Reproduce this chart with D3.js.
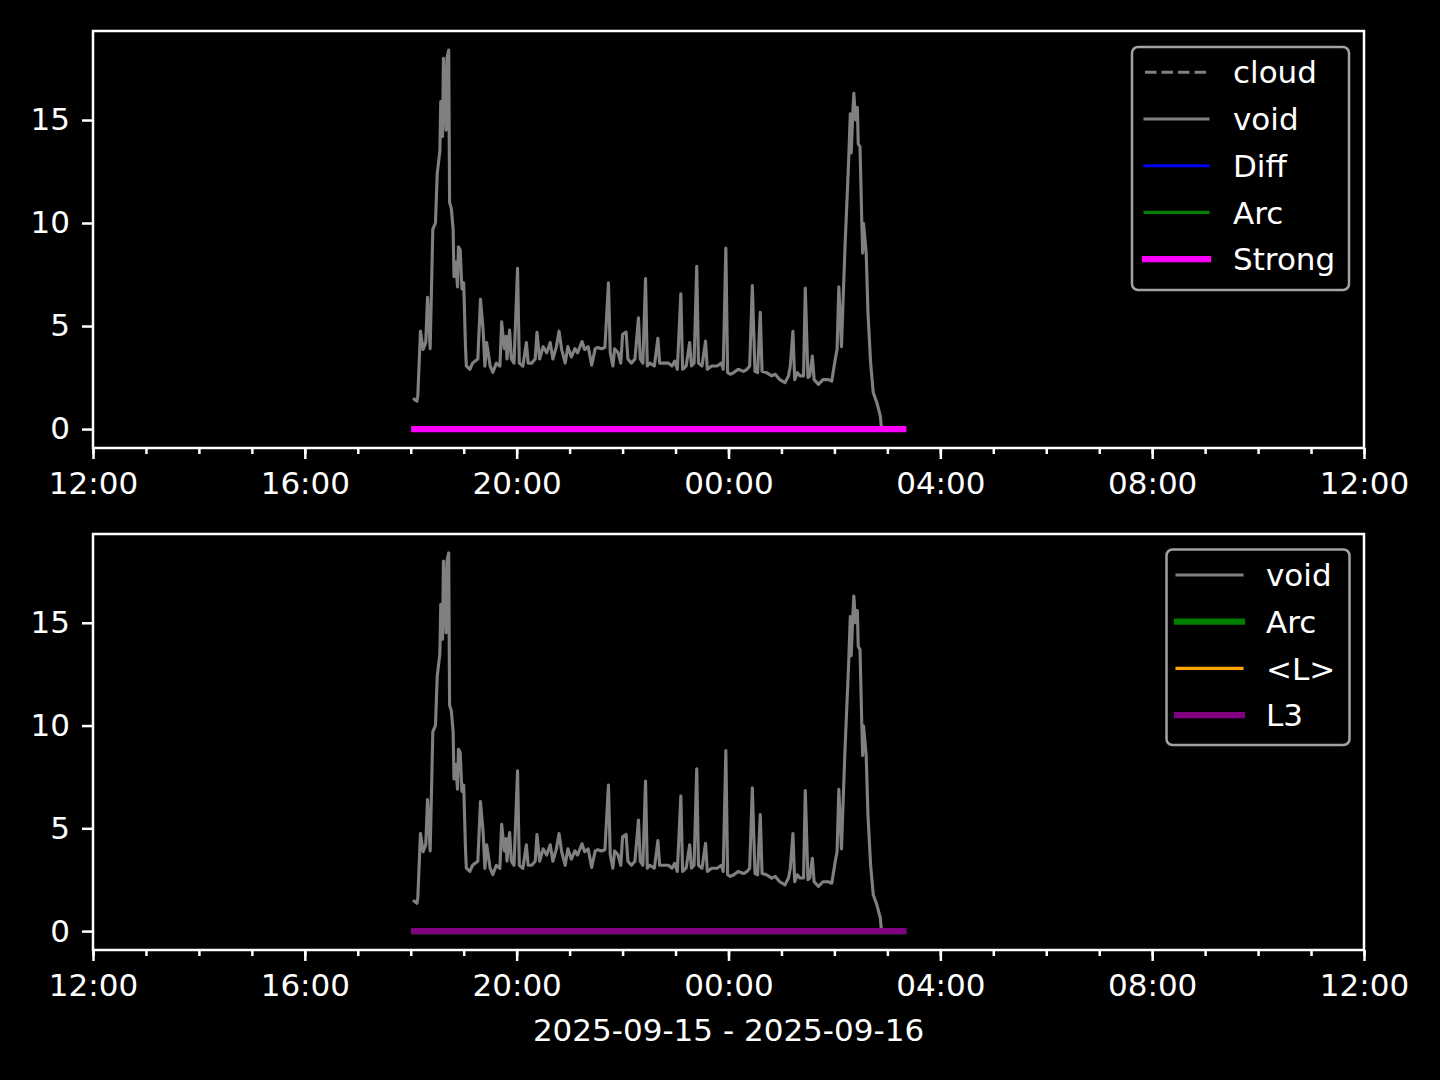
<!DOCTYPE html>
<html>
<head>
<meta charset="utf-8">
<script src="https://cdn.jsdelivr.net/npm/d3@7"></script>
<style>
  html, body { margin: 0; padding: 0; background: #000; }
  svg text { font-family: "DejaVu Sans", sans-serif; fill: #fff; }
</style>
</head>
<body>
<svg id="chart" width="1440" height="1080"></svg>
<script>
// void series (times are 2025-09-15 18:00 .. 2025-09-16 03:00)
const voidTimes = [
  "18:04","18:07","18:08","18:11","18:14","18:17","18:19","18:22","18:25","18:28",
  "18:30","18:33","18:34","18:36","18:37","18:40","18:41","18:43","18:44","18:46",
  "18:48","18:49","18:51","18:53","18:54","18:56","18:58","19:00","19:02","19:03",
  "19:07","19:10","19:16","19:19","19:22","19:24","19:26","19:30","19:33","19:37",
  "19:41","19:43","19:46","19:48","19:49","19:52","19:54","19:57","20:01","20:03",
  "20:07","20:11","20:13","20:17","20:21","20:23","20:26","20:30","20:34","20:38",
  "20:41","20:45","20:48","20:51","20:55","20:58","21:02","21:06","21:09","21:14",
  "21:17","21:21","21:25","21:29","21:32","21:36","21:40","21:44","21:46","21:49",
  "21:51","21:55","21:58","22:00","22:04","22:06","22:10","22:14","22:18","22:20",
  "22:23","22:26","22:28","22:31","22:36","22:40","22:42","22:46","22:52","22:56",
  "22:59","23:02","23:06","23:08","23:12","23:16","23:18","23:21","23:24","23:26",
  "23:30","23:34","23:36","23:41","23:47","23:52","23:54","23:57","23:59","00:02",
  "00:06","00:11","00:17","00:21","00:24","00:27","00:30","00:33","00:36","00:38",
  "00:43","00:49","00:53","00:58","01:04","01:08","01:10","01:13","01:15","01:18",
  "01:21","01:25","01:27","01:30","01:32","01:35","01:37","01:42","01:47","01:53",
  "01:57","02:01","02:03","02:05","02:08","02:12","02:16","02:18","02:19","02:21",
  "02:22","02:24","02:26","02:27","02:29","02:31","02:32","02:33","02:36","02:38",
  "02:41","02:44","02:48","02:52","02:53"
];
const voidValues = [
  1.45, 1.35, 1.6, 4.75, 3.86, 4.2, 6.4, 3.9, 9.7, 10.0,
  12.4, 13.5, 15.9, 14.2, 18.0, 14.5, 18.0, 18.4, 11.0, 10.7,
  9.7, 7.4, 8.1, 6.9, 8.85, 8.7, 6.8, 7.1, 4.0, 3.06,
  2.9, 3.2, 3.4, 6.3, 4.8, 3.05, 4.2, 3.05, 2.75, 3.2,
  3.05, 5.2, 3.9, 4.5, 3.4, 4.8, 3.4, 3.2, 7.8, 3.2,
  3.05, 4.2, 3.2, 3.2, 3.4, 4.7, 3.4, 4.0, 3.7, 4.2,
  3.4, 4.0, 4.75, 3.86, 3.2, 4.0, 3.5, 3.9, 3.7, 4.25,
  3.86, 4.0, 3.1, 3.9, 3.96, 3.9, 3.96, 7.1, 3.7, 3.06,
  3.9, 3.7, 3.2, 4.6, 4.7, 3.4, 3.2, 3.4, 5.4, 3.4,
  3.2, 7.3, 3.06, 3.2, 3.06, 4.4, 3.2, 3.2, 3.2, 3.06,
  3.3, 2.9, 6.57, 2.9, 3.06, 4.2, 3.06, 3.2, 7.9, 3.2,
  3.06, 4.27, 2.9, 3.06, 3.06, 3.2, 2.9, 8.78, 2.74, 2.66,
  2.74, 2.9, 2.8, 2.9, 3.06, 6.97, 2.8, 2.74, 5.67, 2.8,
  2.74, 2.58, 2.66, 2.4, 2.25, 2.58, 3.06, 4.75, 2.4, 2.74,
  2.58, 2.58, 6.84, 2.5, 2.58, 3.54, 2.4, 2.17, 2.4, 2.4,
  2.33, 3.4, 3.86, 6.9, 4.0, 8.85, 12.9, 15.3, 13.4, 15.46,
  16.3, 15.0, 15.6, 13.85, 13.7, 10.1, 8.55, 9.98, 8.55, 5.64,
  3.22, 1.77, 1.29, 0.64, 0.16
];
// flat series at zero over the whole run
const flatTimes = ["18:04", "03:18"];
const flatValues = [0, 0];

const xDomain = ["12:00", "12:00+"];
const dateLabel = "2025-09-15 - 2025-09-16";

const topLegend = ["cloud", "void", "Diff", "Arc", "Strong"];
const bottomLegend = ["void", "Arc", "<L>", "L3"];

const styles = {
  cloud:  {color: "#808080", width: 3.1, dash: "11.5,5"},
  void:   {color: "#808080", width: 3.1},
  Diff:   {color: "#0000ff", width: 3.1},
  Arc:    {color: "#008000", width: 3.1},
  Arc2:   {color: "#008000", width: 6.2},
  Strong: {color: "#ff00ff", width: 6.2},
  "<L>":  {color: "#ffa500", width: 3.1},
  L3:     {color: "#800080", width: 6.2}
};

function parseT(s) {
  const next = s.endsWith("+");
  const [h, m] = s.replace("+", "").split(":").map(Number);
  const day = (next || h < 12) ? 16 : 15;
  return new Date(2025, 8, day, h, m);
}

const voidData = voidTimes.map((t, i) => ({t: parseT(t), v: voidValues[i]}));
const flatData = flatTimes.map((t, i) => ({t: parseT(t), v: flatValues[i]}));

const svg = d3.select("#chart");
svg.append("rect").attr("width", 1440).attr("height", 1080).attr("fill", "#000");

const left = 93, right = 1364;
const panels = [
  {top: 31, bottom: 448, legend: topLegend, series: [["Diff", flatData], ["Arc", flatData], ["void", voidData], ["Strong", flatData]],
   legendBox: {x: 1132, y: 47, w: 217, h: 243, hx0: 1145, hx1: 1208, tx: 1233, ry0: 72.3, dy: 46.7}},
  {top: 534, bottom: 950, legend: bottomLegend, series: [["Arc2", flatData], ["<L>", flatData], ["void", voidData], ["L3", flatData]],
   legendBox: {x: 1166.5, y: 549.5, w: 183, h: 195.5, hx0: 1177, hx1: 1242, tx: 1266, ry0: 575, dy: 46.7}}
];

const x = d3.scaleTime().domain(xDomain.map(parseT)).range([left, right]);

const allV = voidValues.concat(flatValues);
const vmin = d3.min(allV), vmax = d3.max(allV);
const pad = (vmax - vmin) * 0.05;

panels.forEach(p => {
  const y = d3.scaleLinear().domain([vmin - pad, vmax + pad]).range([p.bottom, p.top]);
  const g = svg.append("g");

  const line = d3.line().x(d => x(d.t)).y(d => y(d.v));
  g.append("clipPath").attr("id", "clip" + p.top)
    .append("rect").attr("x", left).attr("y", p.top).attr("width", right - left).attr("height", p.bottom - p.top);

  const plot = g.append("g").attr("clip-path", `url(#clip${p.top})`);
  p.series.forEach(([key, data]) => {
    const st = styles[key];
    plot.append("path")
      .datum(data)
      .attr("d", line)
      .attr("fill", "none")
      .attr("stroke", st.color)
      .attr("stroke-width", st.width)
      .attr("stroke-linejoin", "round")
      .attr("stroke-linecap", "square");
  });

  // axes
  const xAxis = d3.axisBottom(x).ticks(d3.timeHour.every(4)).tickFormat(d3.timeFormat("%H:%M"))
    .tickSize(11).tickPadding(13);
  const xMinor = d3.axisBottom(x).ticks(d3.timeHour.every(1)).tickFormat("").tickSize(6);
  const yAxis = d3.axisLeft(y).tickValues([0, 5, 10, 15]).tickSize(11).tickPadding(12);

  const gxm = g.append("g").attr("transform", `translate(0,${p.bottom})`).call(xMinor);
  const gx = g.append("g").attr("transform", `translate(0,${p.bottom})`).call(xAxis);
  const gy = g.append("g").attr("transform", `translate(${left},0)`).call(yAxis);
  [gxm, gx, gy].forEach(a => {
    a.select(".domain").remove();
    a.selectAll("line").attr("stroke", "#fff").attr("stroke-width", 2.5);
    a.selectAll("text").attr("font-size", 31).attr("fill", "#fff").style("font-family", "DejaVu Sans");
  });

  g.append("rect")
    .attr("x", left).attr("y", p.top).attr("width", right - left).attr("height", p.bottom - p.top)
    .attr("fill", "none").attr("stroke", "#fff").attr("stroke-width", 2.5);

  // legend
  const lb = p.legendBox;
  const lg = g.append("g");
  lg.append("rect").attr("x", lb.x).attr("y", lb.y).attr("width", lb.w).attr("height", lb.h)
    .attr("rx", 6).attr("fill", "#000").attr("stroke", "#a3a3a3").attr("stroke-width", 2.5);
  p.legend.forEach((name, i) => {
    const key = (p.top > 100 && name === "Arc") ? "Arc2" : name;
    const st = styles[key];
    const yy = lb.ry0 + i * lb.dy;
    lg.append("line")
      .attr("x1", lb.hx0).attr("x2", lb.hx1).attr("y1", yy).attr("y2", yy)
      .attr("stroke", st.color).attr("stroke-width", st.width)
      .attr("stroke-linecap", st.dash ? "butt" : "square")
      .attr("stroke-dasharray", st.dash || null);
    lg.append("text").attr("x", lb.tx).attr("y", yy).attr("dy", "0.36em")
      .attr("font-size", 31).text(name);
  });
});

svg.append("text").attr("x", (left + right) / 2).attr("y", 1030).attr("dy", "0.36em")
  .attr("text-anchor", "middle").attr("font-size", 31).text(dateLabel);
</script>
</body>
</html>
